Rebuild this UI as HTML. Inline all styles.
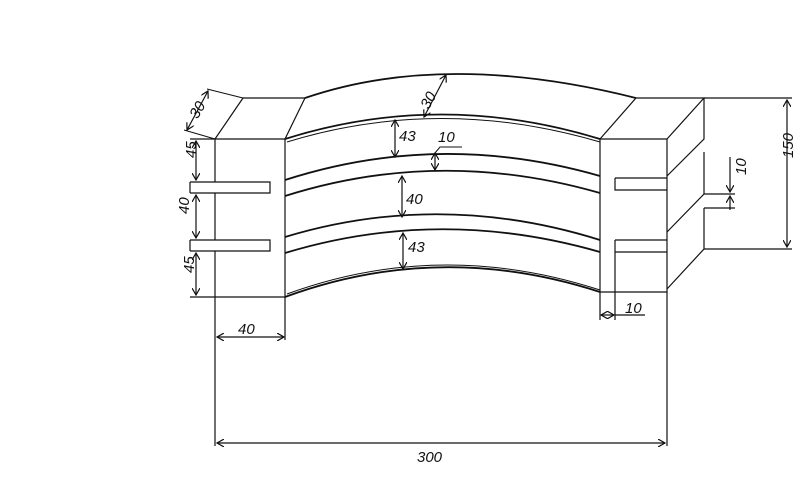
<!DOCTYPE html>
<html><head><meta charset="utf-8"><style>
html,body{margin:0;padding:0;background:#fff;width:800px;height:486px;overflow:hidden}
svg{display:block}
text{font-family:"Liberation Sans",sans-serif;font-style:italic;fill:#111;font-size:15px}
</style></head><body>
<svg width="800" height="486" viewBox="0 0 800 486" xmlns="http://www.w3.org/2000/svg">
<defs>
<marker id="a" markerWidth="8" markerHeight="8" refX="7" refY="4" orient="auto-start-reverse" markerUnits="userSpaceOnUse"><path d="M0,0 L7,4 L0,8" fill="none" stroke="#111" stroke-width="1.2"/></marker>
</defs>
<g fill="none" stroke="#111" stroke-width="1.2">
<!-- left block -->
<path d="M215,139 H285 V297 H215 Z" />
<path d="M215,139 L243,98 H305 L285,139"/>
<path d="M190,182 H270 V193 H190" fill="#fff"/>
<path d="M190,240 H270 V251 H190" fill="#fff"/>
<!-- right block -->
<path d="M600,139 H667 V292 H600 Z"/>
<path d="M600,139 L636,98 H704 L667,139"/>
<path d="M704,98 V139 L667,176"/>
<path d="M704,152 V194 L667,232"/>
<path d="M704,208 V249 L667,289"/>
<path d="M615,178 H667 M615,178 V190 H667" />
<path d="M615,240 H667 M615,240 V252 H667 M615,252 V292"/>
<path d="M704,194 H735 M704,208 H735"/>
<!-- arch -->
<g stroke-width="1.8">
<path d="M305,98 Q445,50 636,98"/>
<path d="M285,139 Q440,90 600,139"/>
<path d="M287,142 Q440,95 600,142" stroke-width="1"/>
<path d="M285,180 Q440,130 600,176"/>
<path d="M285,196 Q440,147 600,193"/>
<path d="M285,237 Q440,190 600,240"/>
<path d="M285,253 Q440,206 600,252"/>
<path d="M285,297 Q440,240 600,292"/>
<path d="M287,294 Q440,238 600,290" stroke-width="1"/>
</g>
<!-- dimensions -->
<path d="M190,139 H215 M190,297 H215 M190,182 V193 M190,240 V251"/>
<path d="M196,141 V180" marker-start="url(#a)" marker-end="url(#a)"/>
<path d="M196,195 V238" marker-start="url(#a)" marker-end="url(#a)"/>
<path d="M196,253 V295" marker-start="url(#a)" marker-end="url(#a)"/>
<path d="M184,130 L215,139 M207,89 L243,98" stroke-width="1"/>
<path d="M187,130 L208,91" marker-start="url(#a)" marker-end="url(#a)"/>
<path d="M215,297 V446 M285,297 V340 M667,292 V446 M600,292 V320 M615,292 V320"/>
<path d="M217,337 H284" marker-start="url(#a)" marker-end="url(#a)"/>
<path d="M217,443 H665" marker-start="url(#a)" marker-end="url(#a)"/>
<path d="M601,315 H614" marker-start="url(#a)" marker-end="url(#a)"/>
<path d="M615,315 H645"/>
<path d="M704,98 H792 M704,249 H792"/>
<path d="M787,100 V247" marker-start="url(#a)" marker-end="url(#a)"/>
<path d="M730,157 V192" marker-end="url(#a)"/>
<path d="M730,210 V196" marker-end="url(#a)"/>
<path d="M424,117 L446,75" marker-start="url(#a)" marker-end="url(#a)"/>
<path d="M395,120 V157" marker-start="url(#a)" marker-end="url(#a)"/>
<path d="M435,153 V170" marker-start="url(#a)" marker-end="url(#a)"/>
<path d="M435,153 L440,147 H462" stroke-width="1"/>
<path d="M402,176 V217" marker-start="url(#a)" marker-end="url(#a)"/>
<path d="M403,233 V269" marker-start="url(#a)" marker-end="url(#a)"/>
</g>
<text x="188" y="117" transform="rotate(-60 195 110)">30</text>
<text x="418" y="108" transform="rotate(-62 425 100)">30</text>
<text x="193" y="175" transform="rotate(-90 186 165)">45</text>
<text x="186" y="225" transform="rotate(-90 182 218)">40</text>
<text x="191" y="290" transform="rotate(-90 184 280)">45</text>
<text x="399" y="141">43</text>
<text x="438" y="142" font-size="13">10</text>
<text x="406" y="204">40</text>
<text x="408" y="252">43</text>
<text x="238" y="334">40</text>
<text x="417" y="462">300</text>
<text x="625" y="313" font-size="13">10</text>
<text x="738" y="183" font-size="13" transform="rotate(-90 738 175)">10</text>
<text x="800" y="185" transform="rotate(-90 783 175)">150</text>
</svg>
</body></html>
